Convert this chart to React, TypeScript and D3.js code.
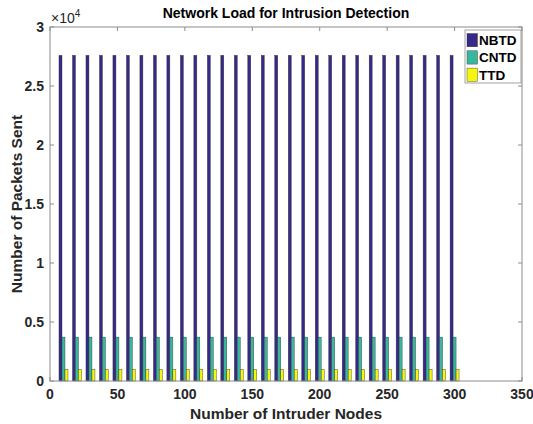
import React, { useEffect, useRef } from 'react';
import * as d3 from 'd3';

// intruder node counts on the x axis
const nodes = d3.range(10, 301, 10);
const seriesNames = ['NBTD', 'CNTD', 'TTD'];
const nbtd = nodes.map(() => 27600);
const cntd = nodes.map(() => 3720);
const ttd = nodes.map(() => 1000);
const colors = ['#352a87', '#38b79d', '#f5f50f'];
const xTicks = [0, 50, 100, 150, 200, 250, 300, 350];
const yTicks = [0, 0.5, 1, 1.5, 2, 2.5, 3];

export default function App() {
  const ref = useRef<SVGSVGElement>(null);

  useEffect(() => {
    const svg = d3.select(ref.current);
    svg.selectAll('*').remove();

    const margin = { top: 27, right: 11, bottom: 43, left: 50 };
    const W = 533, H = 424;
    const font = 'Liberation Sans, Arial, sans-serif';

    const x = d3.scaleLinear().domain([0, 350]).range([margin.left, W - margin.right]);
    const y = d3.scaleLinear().domain([0, 3]).range([H - margin.bottom, margin.top]);

    svg.append('rect').attr('width', W).attr('height', H).attr('fill', '#fff');

    // bars
    const data = [nbtd, cntd, ttd];
    const step = x(10) - x(0);
    const groupW = step * (3 / 4.5);
    const barW = (groupW / 3) * 0.8 * 1.25;
    data.forEach((vals, s) => {
      svg.append('g').selectAll('rect')
        .data(vals)
        .join('rect')
        .attr('x', (d, i) => x(nodes[i]) - groupW / 2 + (s + 0.5) * (groupW / 3) - barW / 2)
        .attr('y', d => y(d / 1e4))
        .attr('width', barW)
        .attr('height', d => y(0) - y(d / 1e4))
        .attr('fill', colors[s])
        .attr('stroke', '#333')
        .attr('stroke-width', 0.4);
    });

    // axes box
    const g = svg.append('g');
    g.append('rect')
      .attr('x', x(0)).attr('y', y(3))
      .attr('width', x(350) - x(0)).attr('height', y(0) - y(3))
      .attr('fill', 'none').attr('stroke', '#8c8c8c').attr('stroke-width', 1);

    xTicks.forEach(t => {
      g.append('line').attr('x1', x(t)).attr('x2', x(t)).attr('y1', y(0)).attr('y2', y(0) - 4).attr('stroke', '#8c8c8c');
      g.append('line').attr('x1', x(t)).attr('x2', x(t)).attr('y1', y(3)).attr('y2', y(3) + 4).attr('stroke', '#8c8c8c');
      g.append('text').attr('x', x(t)).attr('y', y(0) + 18)
        .attr('text-anchor', 'middle').attr('font-family', font).attr('font-weight', 'bold')
        .attr('font-size', 14).attr('fill', '#262626').text(t);
    });
    yTicks.forEach(t => {
      g.append('line').attr('x1', x(0)).attr('x2', x(0) + 4).attr('y1', y(t)).attr('y2', y(t)).attr('stroke', '#8c8c8c');
      g.append('line').attr('x1', x(350)).attr('x2', x(350) - 4).attr('y1', y(t)).attr('y2', y(t)).attr('stroke', '#8c8c8c');
      g.append('text').attr('x', x(0) - 6).attr('y', y(t) + 5)
        .attr('text-anchor', 'end').attr('font-family', font).attr('font-weight', 'bold')
        .attr('font-size', 14).attr('fill', '#262626').text(t);
    });

    // exponent
    const ex = g.append('text').attr('x', x(0) + 1).attr('y', y(3) - 4)
      .attr('font-family', font).attr('font-size', 14).attr('fill', '#262626');
    ex.append('tspan').text('\u00d710');
    ex.append('tspan').attr('dy', -6).attr('font-size', 10).text('4');

    svg.append('text').attr('x', (x(0) + x(350)) / 2).attr('y', 18)
      .attr('text-anchor', 'middle').attr('font-family', font).attr('font-weight', 'bold')
      .attr('font-size', 14).attr('fill', '#000').text('Network Load for Intrusion Detection');

    svg.append('text').attr('x', (x(0) + x(350)) / 2).attr('y', 419)
      .attr('text-anchor', 'middle').attr('font-family', font).attr('font-weight', 'bold')
      .attr('font-size', 15.5).attr('fill', '#262626').text('Number of Intruder Nodes');

    svg.append('text')
      .attr('transform', `translate(22, ${(y(0) + y(3)) / 2}) rotate(-90)`)
      .attr('text-anchor', 'middle').attr('font-family', font).attr('font-weight', 'bold')
      .attr('font-size', 15.5).attr('fill', '#262626').text('Number of Packets Sent');

    // legend
    const leg = svg.append('g');
    leg.append('rect').attr('x', 465).attr('y', 30).attr('width', 56).attr('height', 53)
      .attr('fill', '#fff').attr('stroke', '#8c8c8c').attr('stroke-width', 0.8);
    seriesNames.forEach((n, i) => {
      const yy = 33.5 + i * 17.3;
      leg.append('rect').attr('x', 467).attr('y', yy).attr('width', 10.5).attr('height', 13.3)
        .attr('fill', colors[i]).attr('stroke', '#333').attr('stroke-width', 0.4);
      leg.append('text').attr('x', 479).attr('y', yy + 11.5)
        .attr('font-family', font).attr('font-weight', 'bold').attr('font-size', 13.5)
        .attr('fill', '#000').text(n);
    });
  }, []);

  return <svg ref={ref} width={533} height={424} style={{ position: 'absolute', left: 0, top: 0 }} />;
}
